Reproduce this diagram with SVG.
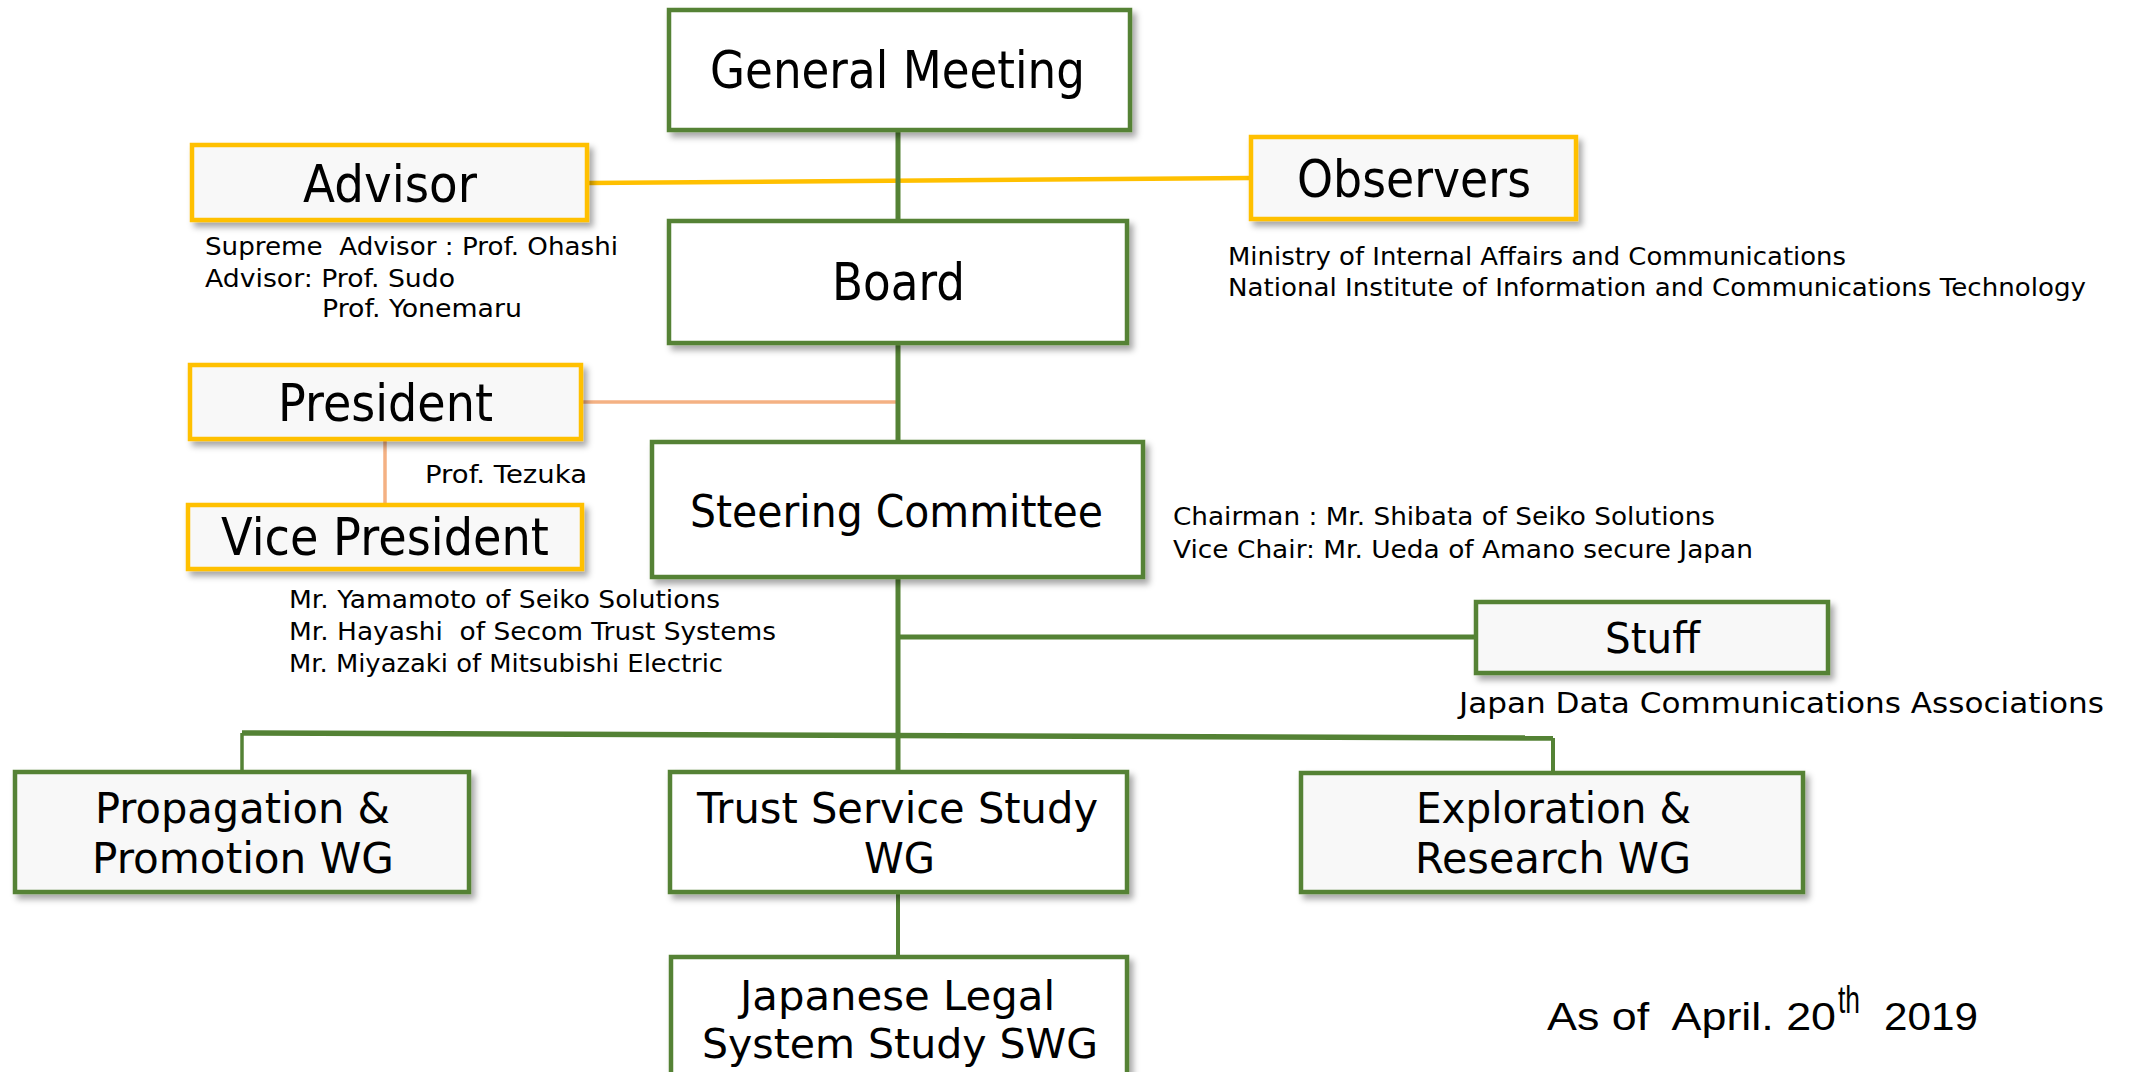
<svg xmlns="http://www.w3.org/2000/svg" width="2131" height="1072" viewBox="0 0 2131 1072">
<defs>
<filter id="sh" x="-10%" y="-10%" width="130%" height="140%">
<feDropShadow dx="4" dy="5" stdDeviation="3" flood-color="#000" flood-opacity="0.35"/>
</filter>
</defs>
<style>
text{font-family:"DejaVu Sans","Noto Sans",sans-serif;fill:#000;white-space:pre}
.g{fill:#fff;stroke:#548235;stroke-width:4.5}
.g2{fill:#f8f8f8;stroke:#548235;stroke-width:4.5}
.y{fill:#f8f8f8;stroke:#ffc000;stroke-width:4.5}
.big{font-size:51px}
.mid{font-size:44px}
.wg{font-size:42px}
.sm{font-size:25px}
.cg{stroke:#548235;fill:none}
.co{stroke:#f4b183;stroke-width:3.5;fill:none}
.cy{stroke:#ffc000;stroke-width:4.5;fill:none}
.cal{font-family:"Liberation Sans",Arial,sans-serif;font-size:38px}
</style>
<rect width="2131" height="1072" fill="#fff"/>
<g id="connectors">
<line class="cy" x1="587" y1="183" x2="1251" y2="178"/>
<line class="co" x1="581" y1="402" x2="898" y2="402"/>
<line class="co" x1="385" y1="439" x2="385" y2="505"/>
<line class="cg" stroke-width="5" x1="898" y1="130" x2="898" y2="772"/>
<line class="cg" stroke-width="5" x1="898" y1="637" x2="1475" y2="637"/>
<line class="cg" stroke-width="5.5" x1="242" y1="733" x2="1553" y2="738"/>
<line class="cg" stroke-width="3.5" x1="242" y1="733" x2="242" y2="772"/>
<line class="cg" stroke-width="4" x1="1553" y1="738" x2="1553" y2="773"/>
<line class="cg" stroke-width="4" x1="898" y1="892" x2="898" y2="957"/>
</g>
<g id="general-meeting">
<rect class="g" x="669" y="10" width="461" height="120" filter="url(#sh)"/>
<text class="big" x="710" y="88" textLength="375" lengthAdjust="spacingAndGlyphs">General Meeting</text>
</g>
<g id="advisor">
<rect class="y" x="192" y="145" width="395" height="75" filter="url(#sh)"/>
<text class="big" x="303" y="202" textLength="174" lengthAdjust="spacingAndGlyphs">Advisor</text>
<text class="sm" xml:space="preserve" x="205" y="255" textLength="413" lengthAdjust="spacingAndGlyphs">Supreme  Advisor : Prof. Ohashi</text>
<text class="sm" x="205" y="287" textLength="250" lengthAdjust="spacingAndGlyphs">Advisor: Prof. Sudo</text>
<text class="sm" x="322" y="317" textLength="200" lengthAdjust="spacingAndGlyphs">Prof. Yonemaru</text>
</g>
<g id="observers">
<rect class="y" x="1251" y="137" width="325" height="82" filter="url(#sh)"/>
<text class="big" x="1297" y="197" textLength="234" lengthAdjust="spacingAndGlyphs">Observers</text>
<text class="sm" x="1228" y="265" textLength="618" lengthAdjust="spacingAndGlyphs">Ministry of Internal Affairs and Communications</text>
<text class="sm" x="1228" y="296" textLength="858" lengthAdjust="spacingAndGlyphs">National Institute of Information and Communications Technology</text>
</g>
<g id="board">
<rect class="g" x="669" y="221" width="458" height="122" filter="url(#sh)"/>
<text class="big" x="832" y="300" textLength="133" lengthAdjust="spacingAndGlyphs">Board</text>
</g>
<g id="president">
<rect class="y" x="190" y="365" width="391" height="74" filter="url(#sh)"/>
<text class="big" x="278" y="421" textLength="215" lengthAdjust="spacingAndGlyphs">President</text>
<text class="sm" x="425" y="483" textLength="162" lengthAdjust="spacingAndGlyphs">Prof. Tezuka</text>
</g>
<g id="vice-president">
<rect class="y" x="188" y="505" width="394" height="64" filter="url(#sh)"/>
<text class="big" x="221" y="555" textLength="328" lengthAdjust="spacingAndGlyphs">Vice President</text>
<text class="sm" x="289" y="608" textLength="431" lengthAdjust="spacingAndGlyphs">Mr. Yamamoto of Seiko Solutions</text>
<text class="sm" xml:space="preserve" x="289" y="640" textLength="487" lengthAdjust="spacingAndGlyphs">Mr. Hayashi  of Secom Trust Systems</text>
<text class="sm" x="289" y="672" textLength="434" lengthAdjust="spacingAndGlyphs">Mr. Miyazaki of Mitsubishi Electric</text>
</g>
<g id="steering-committee">
<rect class="g" x="652" y="442" width="491" height="135" filter="url(#sh)"/>
<text class="mid" x="690" y="527" textLength="413" lengthAdjust="spacingAndGlyphs">Steering Committee</text>
<text class="sm" x="1173" y="525" textLength="542" lengthAdjust="spacingAndGlyphs">Chairman : Mr. Shibata of Seiko Solutions</text>
<text class="sm" x="1173" y="558" textLength="580" lengthAdjust="spacingAndGlyphs">Vice Chair: Mr. Ueda of Amano secure Japan</text>
</g>
<g id="stuff">
<rect class="g2" x="1476" y="602" width="352" height="71" filter="url(#sh)"/>
<text class="wg" x="1605" y="653" textLength="95" lengthAdjust="spacingAndGlyphs">Stuff</text>
<text x="1459" y="713" font-size="28" textLength="645" lengthAdjust="spacingAndGlyphs">Japan Data Communications Associations</text>
</g>
<g id="propagation-wg">
<rect class="g2" x="15" y="772" width="454" height="120" filter="url(#sh)"/>
<text class="wg"><tspan x="95" y="823" textLength="295" lengthAdjust="spacingAndGlyphs">Propagation &amp;</tspan><tspan x="92" y="873" textLength="302" lengthAdjust="spacingAndGlyphs">Promotion WG</tspan></text>
</g>
<g id="trust-service-wg">
<rect class="g" x="670" y="772" width="457" height="120" filter="url(#sh)"/>
<text class="wg"><tspan x="697" y="823" textLength="401" lengthAdjust="spacingAndGlyphs">Trust Service Study</tspan><tspan x="864" y="873" textLength="71" lengthAdjust="spacingAndGlyphs">WG</tspan></text>
</g>
<g id="exploration-wg">
<rect class="g2" x="1301" y="773" width="502" height="119" filter="url(#sh)"/>
<text class="wg"><tspan x="1416" y="823" textLength="275" lengthAdjust="spacingAndGlyphs">Exploration &amp;</tspan><tspan x="1415" y="873" textLength="276" lengthAdjust="spacingAndGlyphs">Research WG</tspan></text>
</g>
<g id="legal-swg">
<rect class="g" x="671" y="957" width="456" height="130" filter="url(#sh)"/>
<text font-size="41"><tspan x="740" y="1010" textLength="315" lengthAdjust="spacingAndGlyphs">Japanese Legal</tspan><tspan x="702" y="1058" textLength="396" lengthAdjust="spacingAndGlyphs">System Study SWG</tspan></text>
</g>
<g id="date">
<text class="cal" xml:space="preserve" x="1547" y="1030" textLength="289" lengthAdjust="spacingAndGlyphs">As of  April. 20</text>
<text class="cal" x="1838" y="1013" font-size="24" textLength="22" lengthAdjust="spacingAndGlyphs">th</text>
<text class="cal" x="1884" y="1030" textLength="94" lengthAdjust="spacingAndGlyphs">2019</text>
</g>
</svg>
